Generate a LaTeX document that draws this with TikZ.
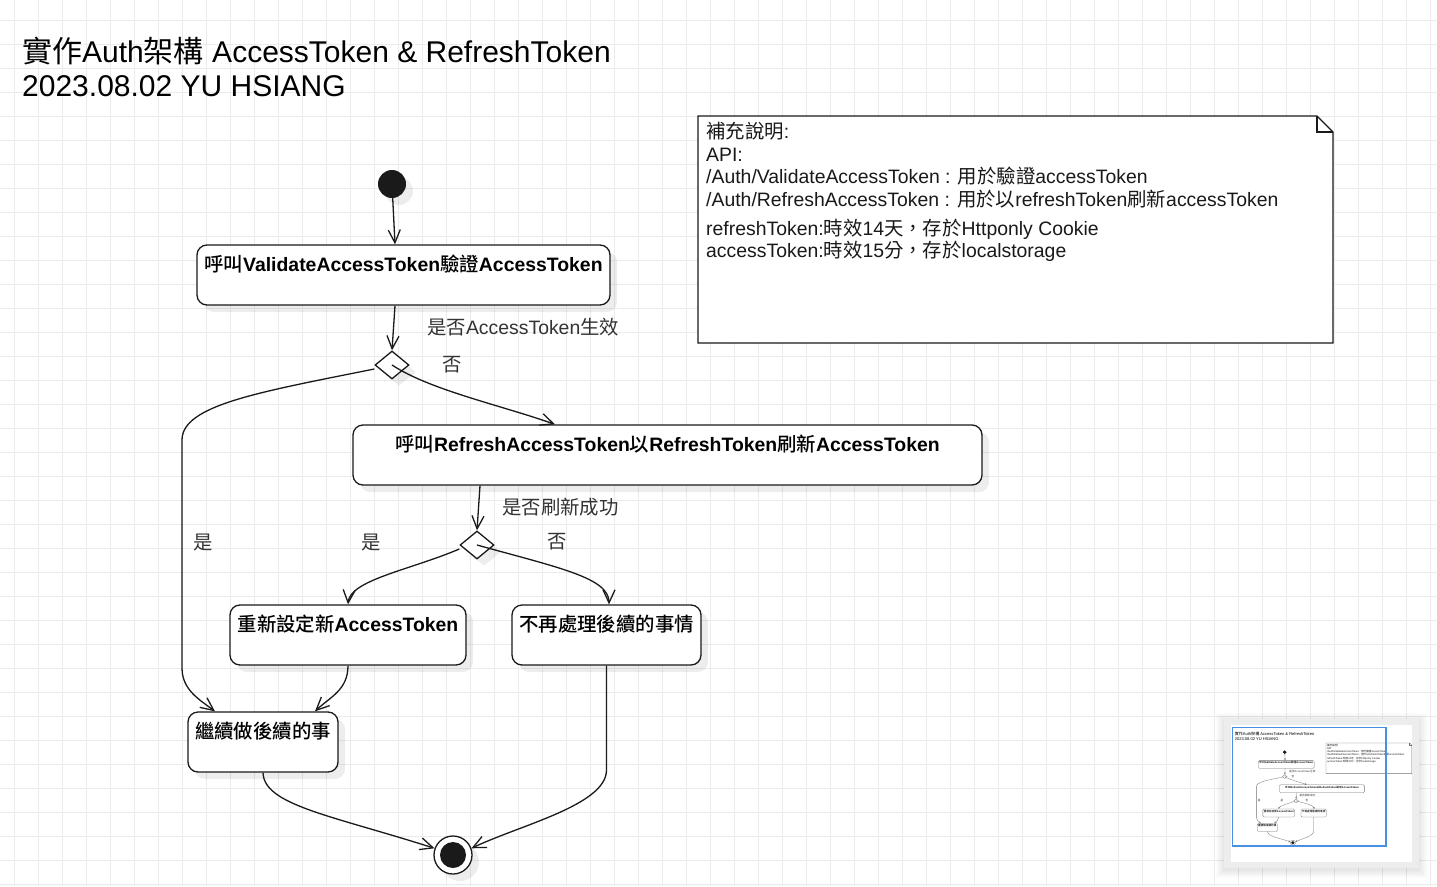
\documentclass[tikz,border=0pt]{standalone}
\usepackage{fontspec}
\setmainfont{Liberation Sans}
\newfontfamily\zhfont[BoldFont={Noto Sans CJK TC Medium}]{Noto Sans CJK TC}
\newcommand{\zh}[1]{{\zhfont #1}}
\newcommand{\bigtext}{\fontsize{19.4}{22.7}\selectfont}
\newcommand{\hugetext}{\fontsize{30}{34}\selectfont}
\usetikzlibrary{calc,shapes.geometric,arrows.meta,shadows}
\definecolor{gridgray}{HTML}{EBEBEB}
\definecolor{ink}{HTML}{1A1A1A}
\definecolor{navblue}{HTML}{4A90E2}

\tikzset{
  flow/.style={draw=ink, line width=1.3pt},
  shade/.style={drop shadow={shadow xshift=7pt, shadow yshift=-7pt, fill=black, opacity=0.07}},
  corner/.style={rounded corners=10pt},
  state/.style={flow, corner, shade, rectangle, fill=white, minimum height=60pt,
    text height=22pt, text depth=30pt, inner ysep=4pt, inner xsep=0pt, font=\bigtext\bfseries},
  choice/.style={flow, shade, diamond, fill=white, minimum width=34pt, minimum height=28pt, inner sep=0pt},
  guard/.style={font=\bigtext, text=black!80, inner sep=0pt},
  headline/.style={font=\hugetext, inner sep=0pt},
  memo/.style={font=\bigtext, align=left, inner sep=0pt, text=black!90},
  gridline/.style={gridgray, line width=1pt},
  link/.style={flow, ->},
  >={Straight Barb[length=13pt,width=12pt]}
}

% the whole chart, used twice (page and outline)
\newcommand{\authflow}{%
  \node[headline, anchor=base west] (title) at (22,62.5) {\zh{實作}Auth\zh{架構} AccessToken \& RefreshToken};
  \node[headline, anchor=base west] (date) at (22,96.5) {2023.08.02 YU HSIANG};
  % note with folded corner
  \draw[flow, fill=white] (698,116) -- (1317,116) -- (1333,132) -- (1333,343) -- (698,343) -- cycle;
  \draw[flow] (1317,116) -- (1317,132) -- (1333,132);
  \node[memo, anchor=north west] (note) at (706,122) {\zh{補充說明}:\\
    API:\\
    /Auth/ValidateAccessToken : \zh{用於驗證}accessToken\\
    /Auth/RefreshAccessToken : \zh{用於以}refreshToken\zh{刷新}accessToken\\[6pt]
    refreshToken:\zh{時效}14\zh{天，存於}Httponly Cookie\\
    accessToken:\zh{時效}15\zh{分，存於}localstorage};
  % states
  \node[circle, shade, fill=ink, minimum size=28pt, inner sep=0pt] (init) at (392,184) {};
  \node[state, minimum width=413pt] (validate) at (403.5,275) {\zh{呼叫}ValidateAccessToken\zh{驗證}AccessToken};
  \node[choice] (ask1) at (392,365) {};
  \node[state, minimum width=629pt] (refresh) at (667.5,455) {\zh{呼叫}RefreshAccessToken\zh{以}RefreshToken\zh{刷新}AccessToken};
  \node[choice] (ask2) at (477,545) {};
  \node[state, minimum width=236pt] (reset) at (348,635) {\zh{重新設定新}AccessToken};
  \node[state, minimum width=189pt] (giveup) at (606.5,635) {\zh{不再處理後續的事情}};
  \node[state, minimum width=150pt] (goon) at (263,742) {\zh{繼續做後續的事}};
  \node[circle, flow, shade, fill=white, minimum size=38pt, inner sep=0pt] (final) at (453,855) {};
  \node[circle, fill=ink, minimum size=26pt, inner sep=0pt] (finalcore) at (final) {};
  % guards
  \node[guard, anchor=west] (lbvalid) at (427,327) {\zh{是否}AccessToken\zh{生效}};
  \node[guard] (lbno1) at (452,365) {\zh{否}};
  \node[guard] (lbyes1) at (203,543) {\zh{是}};
  \node[guard, anchor=west] (lbrefresh) at (502,507) {\zh{是否刷新成功}};
  \node[guard] (lbyes2) at (371,543) {\zh{是}};
  \node[guard] (lbno2) at (557,542) {\zh{否}};
  % transitions
  \draw[link] (init) -- ($(validate.north)+(-8.5,0)$);
  \draw[link] ($(validate.south)+(-8.5,0)$) -- (ask1.north);
  \draw[link] (ask1.center) .. controls (430,390) and (500,405) .. ($(refresh.north)+(-112.5,0)$);
  \draw[link] ($(ask1.west)+(0,4)$) .. controls (260,392) and (182,405) .. (182,440)
    -- (182,668) .. controls (182,690) and (200,700) .. ($(goon.north)+(-48,0)$);
  \draw[link] ($(refresh.south)+(-187.5,0)$) -- (ask2.north);
  \draw[link] ($(ask2.west)+(0,4)$) .. controls (410,570) and (350,580) .. (reset.north);
  \draw[link] (ask2.center) .. controls (560,568) and (609,578) .. ($(giveup.north)+(2.5,0)$);
  \draw[link] (reset.south) .. controls (348,690) and (330,697) .. ($(goon.north)+(52,0)$);
  \draw[link] (goon.south) .. controls (264,805) and (330,815) .. (final.160);
  \draw[link] (giveup.south) -- (606.5,770) .. controls (606.5,805) and (520,825) .. (final.20);
}

\begin{document}
\begin{tikzpicture}[x=1pt,y=-1pt]
  \fill[white] (0,0) rectangle (1437,886);
  \useasboundingbox (0,0) rectangle (1437,886);
  \foreach \gx in {14.3,38.3,...,1437}{% grid columns
    \draw[gridline] (\gx,0) -- (\gx,886);
  }
  \foreach \gy in {20.7,44.7,...,886}{% grid rows
    \draw[gridline] (0,\gy) -- (1437,\gy);
  }

  \authflow

  % outline panel, bottom right
  \foreach \s in {1,...,8}{
    \fill[black, opacity=0.012] (1224-\s,721-\s) rectangle (1419+\s,870+\s);
  }
  \fill[black!7] (1224,719) rectangle (1419,868);
  \fill[white] (1231,725) rectangle (1412,862);
  \begin{scope}[shift={(1231.8,727.3)}, scale=0.135, transform shape, name prefix=m-,
      flow/.style={draw=black!55, line width=0.3pt}, shade/.style={}, corner/.style={rounded corners=1.3pt},
      >={Straight Barb[length=1.8pt,width=1.8pt]}]
    \authflow
  \end{scope}
  \draw[navblue, line width=1.3pt] (1232.3,727.3) rectangle (1386,846);
\end{tikzpicture}
\end{document}
